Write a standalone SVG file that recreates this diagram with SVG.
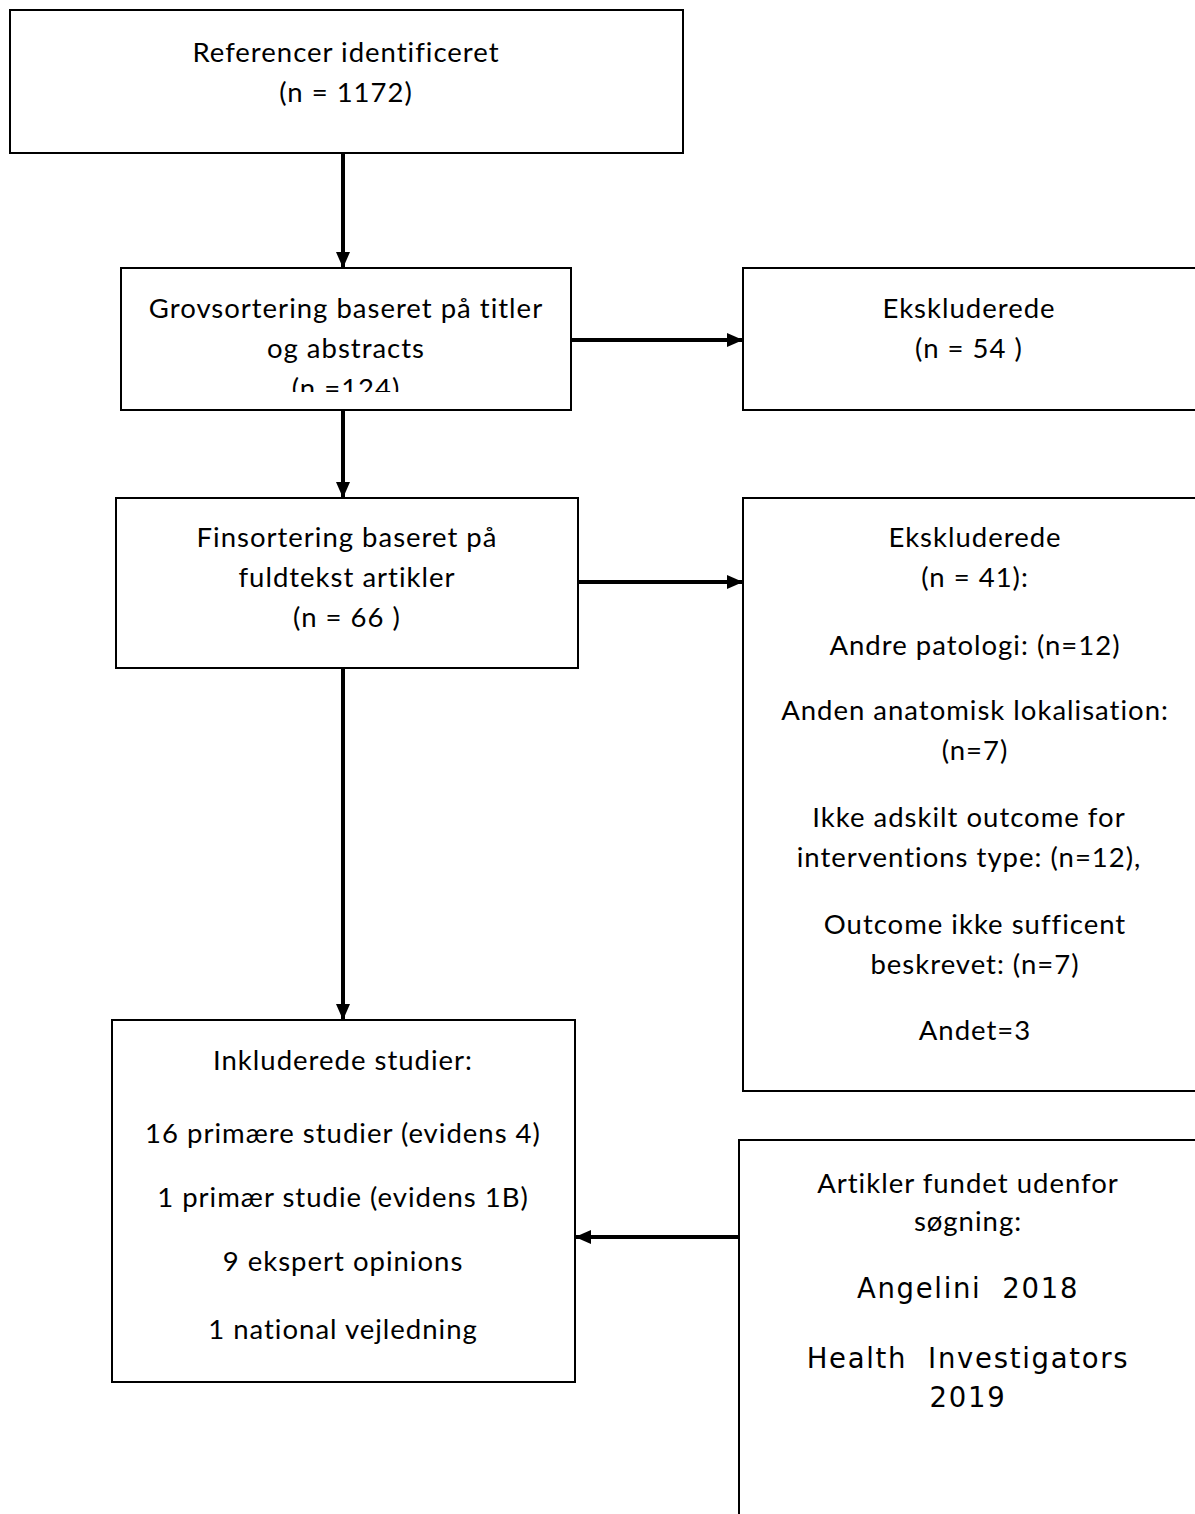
<svg xmlns="http://www.w3.org/2000/svg" width="1195" height="1514" viewBox="0 0 1195 1514">
<defs>
<style>
.box{fill:#fff;stroke:#000;stroke-width:2}
.t{font-family:Lato,"Liberation Sans",sans-serif;font-size:27.5px;letter-spacing:1px;fill:#000;text-anchor:middle}
.v{font-family:"DejaVu Sans",Verdana,sans-serif;font-size:27.5px;letter-spacing:1.7px;fill:#000;text-anchor:middle;white-space:pre}
.c{stroke:#000;stroke-width:4;fill:none}
</style>
<marker id="ah" markerUnits="userSpaceOnUse" markerWidth="16" markerHeight="14" refX="16" refY="7" orient="auto">
<path d="M0,0 L16,7 L0,14 Z" fill="#000"/>
</marker>
<clipPath id="clip2"><rect x="121" y="268" width="450" height="124"/></clipPath>
</defs>
<rect width="1195" height="1514" fill="#fff"/>
<g id="n1">
<rect class="box" x="10" y="10" width="673" height="143"/>
<text class="t" x="346" y="62">Referencer identificeret</text>
<text class="t" x="346" y="102">(n = 1172)</text>
</g>
<g id="n2">
<rect class="box" x="121" y="268" width="450" height="142"/>
<g clip-path="url(#clip2)">
<text class="t" x="346" y="318">Grovsortering baseret på titler</text>
<text class="t" x="346" y="358">og abstracts</text>
<text class="t" x="346" y="398">(n =124)</text>
</g>
</g>
<g id="n3">
<rect class="box" x="743" y="268" width="470" height="142"/>
<text class="t" x="969" y="318">Ekskluderede</text>
<text class="t" x="969" y="358">(n = 54 )</text>
</g>
<g id="n4">
<rect class="box" x="116" y="498" width="462" height="170"/>
<text class="t" x="347" y="547">Finsortering baseret på</text>
<text class="t" x="347" y="587">fuldtekst artikler</text>
<text class="t" x="347" y="627">(n = 66 )</text>
</g>
<g id="n5">
<rect class="box" x="743" y="498" width="470" height="593"/>
<text class="t" x="975" y="547">Ekskluderede</text>
<text class="t" x="975" y="587">(n = 41):</text>
<text class="t" x="975" y="655">Andre patologi: (n=12)</text>
<text class="t" x="975" y="720">Anden anatomisk lokalisation:</text>
<text class="t" x="975" y="760">(n=7)</text>
<text class="t" x="969" y="827">Ikke adskilt outcome for</text>
<text class="t" x="969" y="867">interventions type: (n=12),</text>
<text class="t" x="975" y="934">Outcome ikke sufficent</text>
<text class="t" x="975" y="974">beskrevet: (n=7)</text>
<text class="t" x="975" y="1040">Andet=3</text>
</g>
<g id="n6">
<rect class="box" x="112" y="1020" width="463" height="362"/>
<text class="t" x="343" y="1070">Inkluderede studier:</text>
<text class="t" x="343" y="1143">16 primære studier (evidens 4)</text>
<text class="t" x="343" y="1207">1 primær studie (evidens 1B)</text>
<text class="t" x="343" y="1271">9 ekspert opinions</text>
<text class="t" x="343" y="1339">1 national vejledning</text>
</g>
<g id="n7">
<path class="box" d="M739,1520 L739,1140 L1200,1140"/>
<text class="t" x="968" y="1193">Artikler fundet udenfor</text>
<text class="t" x="968" y="1231">søgning:</text>
<text class="v" x="968" y="1298" xml:space="preserve">Angelini  2018</text>
<text class="v" x="968" y="1368" xml:space="preserve">Health  Investigators</text>
<text class="v" x="968" y="1407">2019</text>
</g>
<g id="connectors">
<line class="c" x1="343" y1="153" x2="343" y2="268" marker-end="url(#ah)"/>
<line class="c" x1="571" y1="340" x2="743" y2="340" marker-end="url(#ah)"/>
<line class="c" x1="343" y1="410" x2="343" y2="498" marker-end="url(#ah)"/>
<line class="c" x1="578" y1="582" x2="743" y2="582" marker-end="url(#ah)"/>
<line class="c" x1="343" y1="668" x2="343" y2="1020" marker-end="url(#ah)"/>
<line class="c" x1="739" y1="1237" x2="575" y2="1237" marker-end="url(#ah)"/>
</g>
</svg>
